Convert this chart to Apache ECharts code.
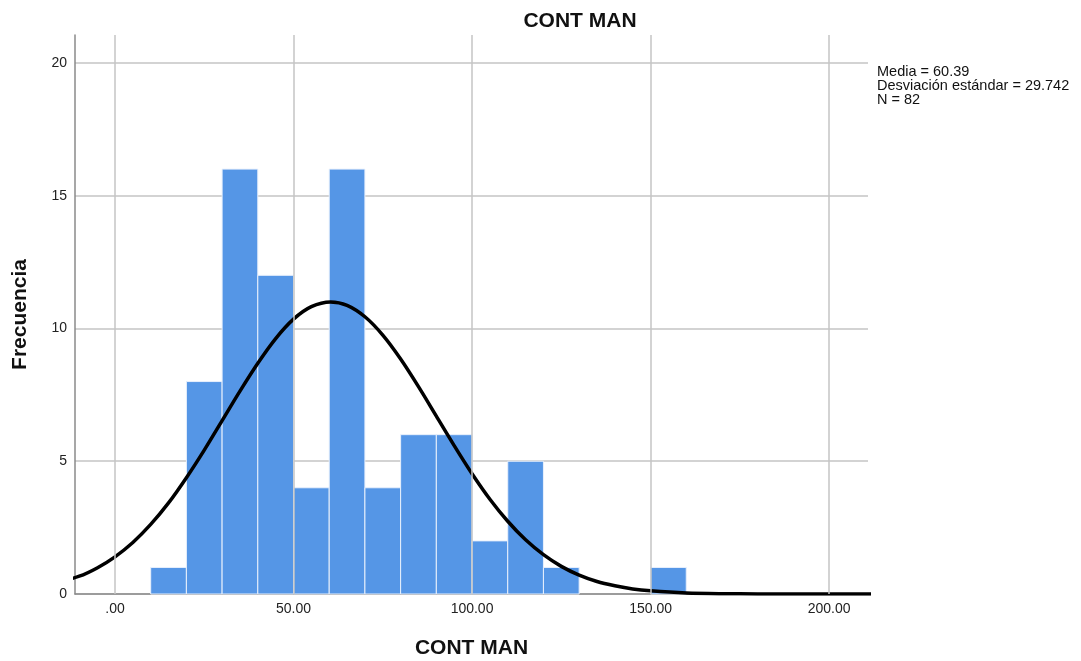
<!DOCTYPE html>
<html>
<head>
<meta charset="utf-8">
<script src="https://cdn.jsdelivr.net/npm/echarts@6/dist/echarts.min.js"></script>
<style>html,body{margin:0;padding:0;background:#fff;}#c{width:1081px;height:661px;}</style>
</head>
<body>
<div id="c"></div>
<script>
var binStart = [10, 20, 30, 40, 50, 60, 70, 80, 90, 100, 110, 120, 150];
var binEnd   = [20, 30, 40, 50, 60, 70, 80, 90, 100, 110, 120, 130, 160];
var binCount = [1, 8, 16, 12, 4, 16, 4, 6, 6, 2, 5, 1, 1];
var curveX = [-20, -10, -5, 0, 5, 10, 15, 20, 25, 30, 35, 40, 45, 50, 55, 60.39, 65, 70, 75, 80, 85, 90, 95, 100, 105, 110, 115, 120, 125, 130, 135, 140, 145, 150, 160, 170, 180, 190, 200, 210, 220];
var curveY = [0.29, 0.67, 0.98, 1.40, 1.94, 2.62, 3.43, 4.38, 5.42, 6.53, 7.64, 8.69, 9.62, 10.35, 10.82, 11.00, 10.87, 10.44, 9.75, 8.85, 7.81, 6.70, 5.59, 4.53, 3.57, 2.74, 2.04, 1.48, 1.04, 0.71, 0.47, 0.31, 0.19, 0.12, 0.04, 0.012, 0.003, 0.001, 0, 0, 0];
var xTicks = [0, 50, 100, 150, 200];
var xTickLabels = ['.00', '50.00', '100.00', '150.00', '200.00'];
var yTicks = [0, 5, 10, 15, 20];
var statLines = ['Media = 60.39', 'Desviación estándar = 29.742', 'N = 82'];
var titleText = 'CONT MAN';
var xName = 'CONT MAN';
var yName = 'Frecuencia';

var FONT = '"Liberation Sans", Arial, sans-serif';
var chart = echarts.init(document.getElementById('c'), null, {renderer: 'canvas'});

var bars = binStart.map(function (s, i) { return [s, binEnd[i], binCount[i]]; });
var curve = curveX.map(function (x, i) { return [x, curveY[i]]; });

chart.setOption({
  animation: false,
  backgroundColor: '#ffffff',
  title: {
    text: titleText, left: 575, top: 6, textAlign: 'center',
    textStyle: {fontFamily: FONT, fontSize: 21, fontWeight: 'bold', color: '#111'}
  },
  graphic: [{
    type: 'text', left: 877, top: 64,
    style: {text: statLines.join('\n'), fontFamily: FONT, fontSize: 14.5, lineHeight: 14.4, fill: '#111'}
  }],
  grid: {left: 75, right: 213, top: 35, bottom: 67, outerBoundsMode: 'none', containLabel: false},
  xAxis: {
    type: 'value', min: -11.2, max: 210.9,
    name: xName, nameLocation: 'middle', nameGap: 44,
    nameTextStyle: {fontFamily: FONT, fontSize: 21, fontWeight: 'bold', color: '#111'},
    axisLine: {show: true, onZero: false, lineStyle: {color: '#8a8a8a', width: 1.5}},
    axisTick: {show: false},
    splitLine: {show: false},
    axisLabel: {
      customValues: xTicks, margin: 8,
      fontFamily: FONT, fontSize: 14, color: '#222',
      formatter: function (v) { var i = xTicks.indexOf(v); return i >= 0 ? xTickLabels[i] : ''; }
    }
  },
  yAxis: {
    type: 'value', min: 0, max: 21.05, interval: 5,
    name: yName, nameLocation: 'middle', nameGap: 44,
    nameTextStyle: {fontFamily: FONT, fontSize: 21, fontWeight: 'bold', color: '#111'},
    axisLine: {show: true, onZero: false, lineStyle: {color: '#8a8a8a', width: 1.5}},
    axisTick: {show: false},
    axisLabel: {
      margin: 8, fontFamily: FONT, fontSize: 14, color: '#222', showMaxLabel: false,
      padding: [4, 0, 0, 0],
      formatter: function (v) { return yTicks.indexOf(v) >= 0 ? String(v) : ''; }
    },
    splitLine: {show: true, showMaxLine: false, lineStyle: {color: '#c4c4c4', width: 1.5}}
  },
  series: [
    {
      type: 'line', data: [], z: 1, silent: true,
      markLine: {
        silent: true, symbol: 'none', label: {show: false},
        lineStyle: {color: '#c4c4c4', width: 1.5, type: 'solid'},
        data: xTicks.map(function (t) { return {xAxis: t}; })
      }
    },
    {
      type: 'custom', z: 2, data: bars,
      renderItem: function (params, api) {
        var p0 = api.coord([api.value(0), api.value(2)]);
        var p1 = api.coord([api.value(1), 0]);
        return {
          type: 'rect',
          shape: {x: p0[0], y: p0[1], width: p1[0] - p0[0], height: p1[1] - p0[1]},
          style: {fill: '#5596e6', stroke: '#e8f0fc', lineWidth: 1}
        };
      },
      encode: {x: [0, 1], y: 2}
    },
    {
      type: 'line', z: 3, data: curve, smooth: 0.3, showSymbol: false, clip: true,
      lineStyle: {color: '#000', width: 3.5}
    }
  ]
});
</script>
</body>
</html>
